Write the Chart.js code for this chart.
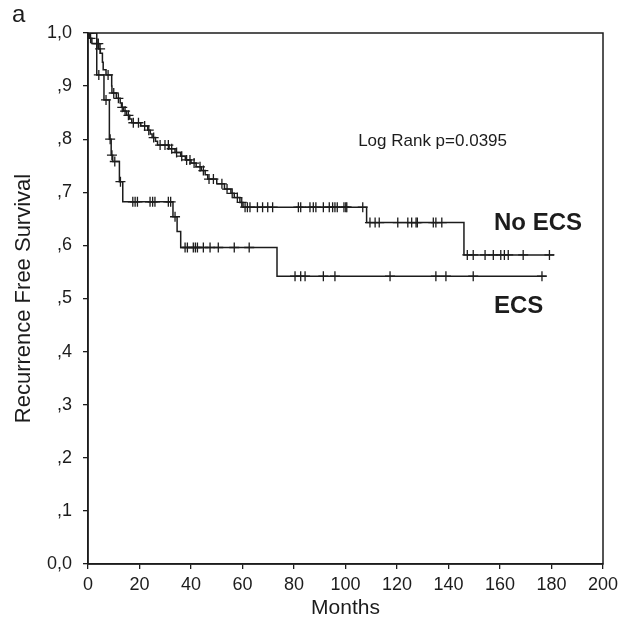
<!DOCTYPE html>
<html>
<head>
<meta charset="utf-8">
<script src="https://cdn.jsdelivr.net/npm/chart.js@4.4.0/dist/chart.umd.min.js"></script>
<style>
  html, body { margin: 0; padding: 0; background: #fff; }
  #wrap { width: 636px; height: 629px; }
</style>
</head>
<body>
<div id="wrap"><canvas id="km"></canvas></div>
<script>
// axis ticks
const xTicks = [0, 20, 40, 60, 80, 100, 120, 140, 160, 180, 200];
const yTicks = [0, 0.1, 0.2, 0.3, 0.4, 0.5, 0.6, 0.7, 0.8, 0.9, 1.0];
const yTickLabels = ["0,0", ",1", ",2", ",3", ",4", ",5", ",6", ",7", ",8", ",9", "1,0"];

// No ECS: event times (months) and survival after each step
const noEcsTimes = [0.5, 1.5, 4.2, 4.8, 5.6, 5.9, 7.0, 9.2, 9.3, 11.0, 12.5, 13.0, 13.8, 15.0, 16.2, 17.0,
  20.5, 23.2, 24.2, 24.9, 26.2, 27.0, 31.5, 33.8, 36.0, 37.8, 40.0, 42.0, 44.0, 45.5, 46.5, 50.0,
  53.0, 55.5, 56.8, 59.0, 60.2, 108.2, 146.0];
const noEcsSurv = [0.99, 0.98, 0.97, 0.962, 0.945, 0.931, 0.921, 0.9, 0.887, 0.877, 0.868, 0.86, 0.853, 0.845, 0.838, 0.831,
  0.825, 0.817, 0.81, 0.803, 0.796, 0.789, 0.782, 0.775, 0.768, 0.761, 0.755, 0.748, 0.741, 0.733, 0.725, 0.716,
  0.706, 0.698, 0.69, 0.681, 0.672, 0.643, 0.582];
const noEcsEnd = 181;
const noEcsCensored = [0.3, 1.0, 3.5, 4.0, 4.7, 7.8, 10.0, 11.8, 13.3, 14.4, 15.7, 17.6, 19.6, 22.0, 23.6, 25.5,
  28.0, 29.9, 31.2, 32.5, 34.4, 36.4, 38.3, 39.6, 41.2, 43.5, 44.8, 47.0, 48.7, 52.0, 54.0, 56.0, 58.0, 59.7,
  61.0, 61.9, 62.9, 65.8, 67.8, 69.8, 71.7, 81.7, 82.6, 86.2, 87.5, 88.5, 91.4, 93.7, 95.0, 95.9, 96.8, 99.4,
  100.1, 100.5, 106.7, 109.5, 111.5, 113.1, 120.3, 124.2, 125.7, 127.4, 127.9, 134.1, 135.1, 137.4,
  147.3, 149.6, 154.2, 157.4, 160.3, 161.7, 163.2, 169.0, 179.2];

// ECS
const ecsTimes = [3.4, 6.2, 8.3, 9.0, 9.6, 12.2, 13.5, 33.0, 34.6, 36.0, 73.4];
const ecsSurv = [0.921, 0.874, 0.80, 0.77, 0.758, 0.72, 0.682, 0.654, 0.626, 0.596, 0.542];
const ecsEnd = 178;
const ecsCensored = [0.5, 4.2, 7.0, 8.6, 9.3, 10.4, 12.6, 17.4, 18.3, 19.2, 24.1, 25.1, 26.0, 31.2, 32.1, 33.8,
  37.7, 38.6, 40.9, 41.7, 42.5, 44.8, 47.4, 50.6, 56.8, 62.6, 80.4, 82.6, 84.3, 91.4, 95.9, 117.3,
  135.1, 139.0, 149.6, 176.3];

const ink = "#1c1c1c";
const font = '"Liberation Sans", Arial, Helvetica, sans-serif';

function stepPoints(times, surv, end) {
  const pts = [{ x: 0, y: 1 }];
  times.forEach((t, i) => pts.push({ x: t, y: surv[i] }));
  pts.push({ x: end, y: surv[surv.length - 1] });
  return pts;
}

// survival level of the curve at time t (for censor marks)
function survAt(times, surv, t) {
  let s = 1;
  for (let i = 0; i < times.length; i++) if (times[i] <= t) s = surv[i];
  return s;
}

function censorPoints(censored, times, surv) {
  return censored.map(t => ({ x: t, y: survAt(times, surv, t) }));
}

const kmDecor = {
  id: "kmDecor",
  afterDraw(chart) {
    const { ctx, chartArea: a } = chart;
    ctx.save();
    ctx.strokeStyle = ink;
    ctx.lineWidth = 1.5;
    ctx.strokeRect(a.left, a.top, a.right - a.left, a.bottom - a.top);

    ctx.fillStyle = ink;
    ctx.textBaseline = "alphabetic";
    ctx.textAlign = "left";
    ctx.font = "24px " + font;
    ctx.fillText("a", 12, 22);

    ctx.textAlign = "right";
    ctx.textBaseline = "middle";
    ctx.font = "17px " + font;
    ctx.fillText("Log Rank p=0.0395", 507, 141);

    ctx.textAlign = "left";
    ctx.font = "bold 24px " + font;
    ctx.fillText("No ECS", 494, 223);
    ctx.fillText("ECS", 494, 306);

    ctx.textAlign = "center";
    ctx.font = "21px " + font;
    ctx.fillText("Months", (a.left + a.right) / 2, 608);

    ctx.font = "22px " + font;
    ctx.translate(24, (a.top + a.bottom) / 2);
    ctx.rotate(-Math.PI / 2);
    ctx.fillText("Recurrence Free Survival", 0, 0);
    ctx.restore();
  }
};

const curveStyle = {
  showLine: true, stepped: true, borderColor: ink, borderWidth: 1.5,
  pointRadius: 0, fill: false
};
const censorStyle = {
  showLine: false, pointStyle: "cross", pointRadius: 5, borderColor: ink,
  borderWidth: 1.3, backgroundColor: ink
};

new Chart(document.getElementById("km"), {
  type: "scatter",
  data: {
    datasets: [
      { label: "No ECS", data: stepPoints(noEcsTimes, noEcsSurv, noEcsEnd), ...curveStyle },
      { label: "ECS", data: stepPoints(ecsTimes, ecsSurv, ecsEnd), ...curveStyle },
      { label: "No ECS censored", data: censorPoints(noEcsCensored, noEcsTimes, noEcsSurv), ...censorStyle },
      { label: "ECS censored", data: censorPoints(ecsCensored, ecsTimes, ecsSurv), ...censorStyle }
    ]
  },
  options: {
    responsive: true,
    maintainAspectRatio: false,
    animation: false,
    layout: { padding: { left: 0, top: 33, right: 33, bottom: 0 } },
    plugins: { legend: { display: false }, tooltip: { enabled: false } },
    scales: {
      x: {
        type: "linear", min: 0, max: 200,
        afterBuildTicks: s => { s.ticks = xTicks.map(v => ({ value: v })); },
        afterFit: s => { s.height = 65; },
        ticks: { color: ink, font: { family: font, size: 18 }, padding: 5, maxRotation: 0 },
        grid: { drawOnChartArea: false, tickLength: 5, color: ink, lineWidth: 1.3 },
        border: { color: ink, width: 1.5 }
      },
      y: {
        type: "linear", min: 0, max: 1,
        afterBuildTicks: s => { s.ticks = yTicks.map(v => ({ value: v })); },
        afterFit: s => { s.width = 88; },
        ticks: {
          color: ink, font: { family: font, size: 18 }, padding: 11,
          callback: (v, i) => yTickLabels[i]
        },
        grid: { drawOnChartArea: false, tickLength: 5, color: ink, lineWidth: 1.3 },
        border: { color: ink, width: 1.5 }
      }
    }
  },
  plugins: [kmDecor]
});
</script>
</body>
</html>
